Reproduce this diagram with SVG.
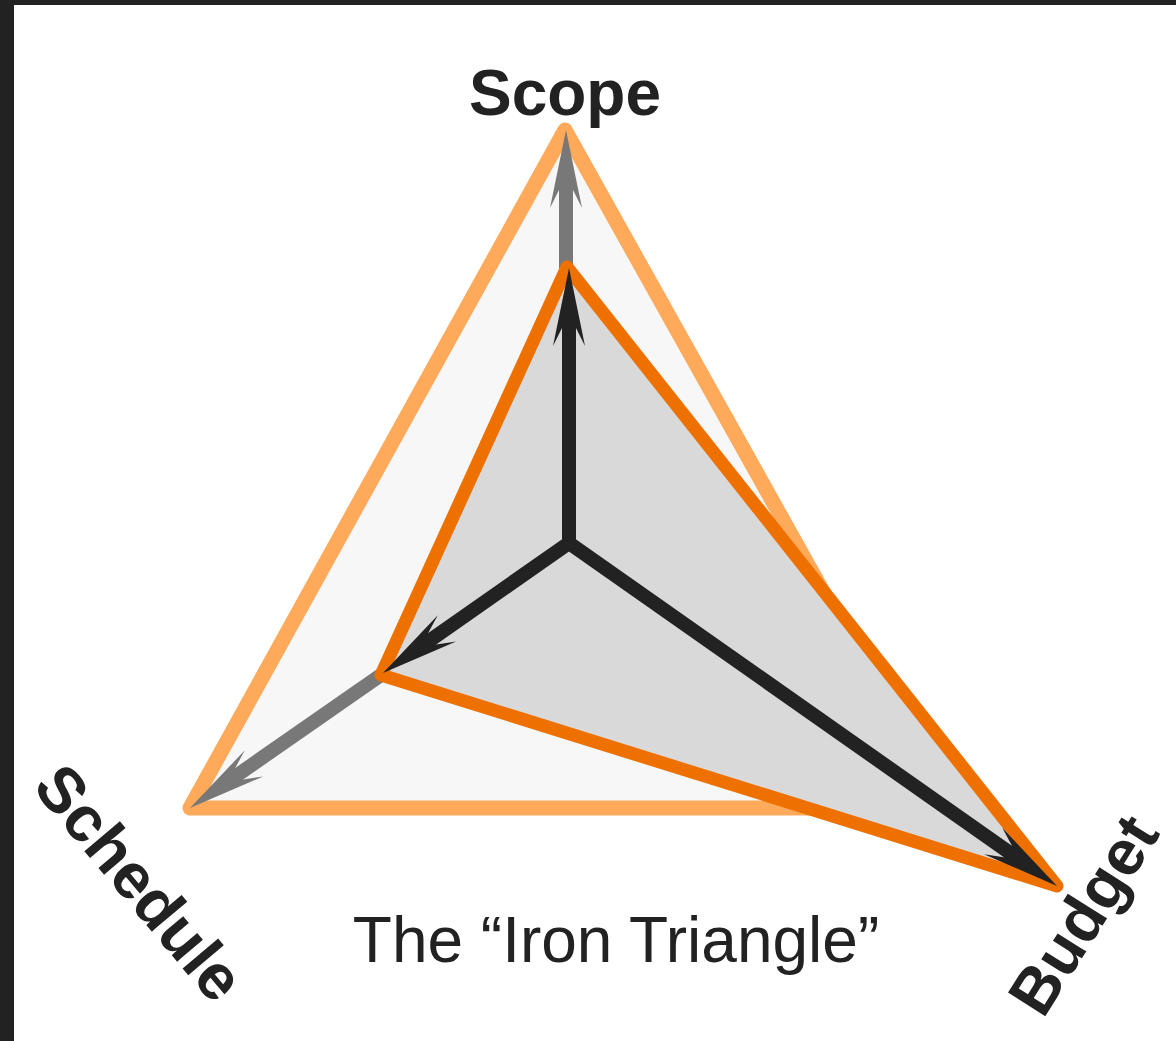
<svg xmlns="http://www.w3.org/2000/svg" width="1176" height="1041" viewBox="0 0 1176 1041">
<style>
.lbl{font-family:"Liberation Sans",Arial,sans-serif;font-weight:bold;font-size:64px;fill:#222222;text-anchor:middle}
.cap{font-family:"Liberation Sans",Arial,sans-serif;font-size:64px;fill:#222222;text-anchor:middle}
.outer{fill:#F7F7F7;stroke:#FFA95A;stroke-width:15;stroke-linejoin:round}
.inner{fill:#D9D9D9;stroke:#EE7100;stroke-width:13;stroke-linejoin:round}
.grey{stroke:#787878;stroke-width:14;fill:none;marker-end:url(#hg)}
.black{stroke:#222222;stroke-width:14;fill:none;stroke-linecap:round;marker-end:url(#hb)}
</style>
<defs>
<marker id="hg" markerUnits="userSpaceOnUse" orient="auto" refX="0" refY="0" markerWidth="100" markerHeight="40" viewBox="-30 -20 100 40" overflow="visible">
<path d="M50,0 L-28,-16 L-10,-7 L-10,7 L-28,16 Z" fill="#787878"/>
</marker>
<marker id="hb" markerUnits="userSpaceOnUse" orient="auto" refX="0" refY="0" markerWidth="100" markerHeight="40" viewBox="-30 -20 100 40" overflow="visible">
<path d="M50,0 L-28,-16 L-10,-7 L-10,7 L-28,16 Z" fill="#222222"/>
</marker>
</defs>
<rect x="0" y="0" width="1176" height="1041" fill="#222222"/>
<rect x="14" y="5" width="1162" height="1036" fill="#FFFFFF"/>
<g id="outer-triangle">
<polygon class="outer" points="565,130 190,808 944,808"/>
</g>
<g id="connectors-max">
<line class="grey" x1="566" y1="268" x2="566" y2="180"/>
<line class="grey" x1="381" y1="675" x2="231" y2="779.4"/>
</g>
<g id="inner-triangle">
<polygon class="inner" points="567,267 381,675 1057,886"/>
</g>
<g id="connectors">
<line class="black" x1="569" y1="543" x2="569" y2="318"/>
<line class="black" x1="569" y1="543" x2="424" y2="644.4"/>
<line class="black" x1="569" y1="543" x2="1016.1" y2="857.2"/>
</g>
<g id="scope"><text class="lbl" x="565" y="115">Scope</text></g>
<g id="schedule"><text class="lbl" transform="translate(138,884) rotate(50)" x="0" y="20">Schedule</text></g>
<g id="budget"><text class="lbl" transform="translate(1085,916) rotate(-57.7)" x="0" y="20">Budget</text></g>
<g id="caption"><text class="cap" x="616" y="962">The “Iron Triangle”</text></g>
</svg>
